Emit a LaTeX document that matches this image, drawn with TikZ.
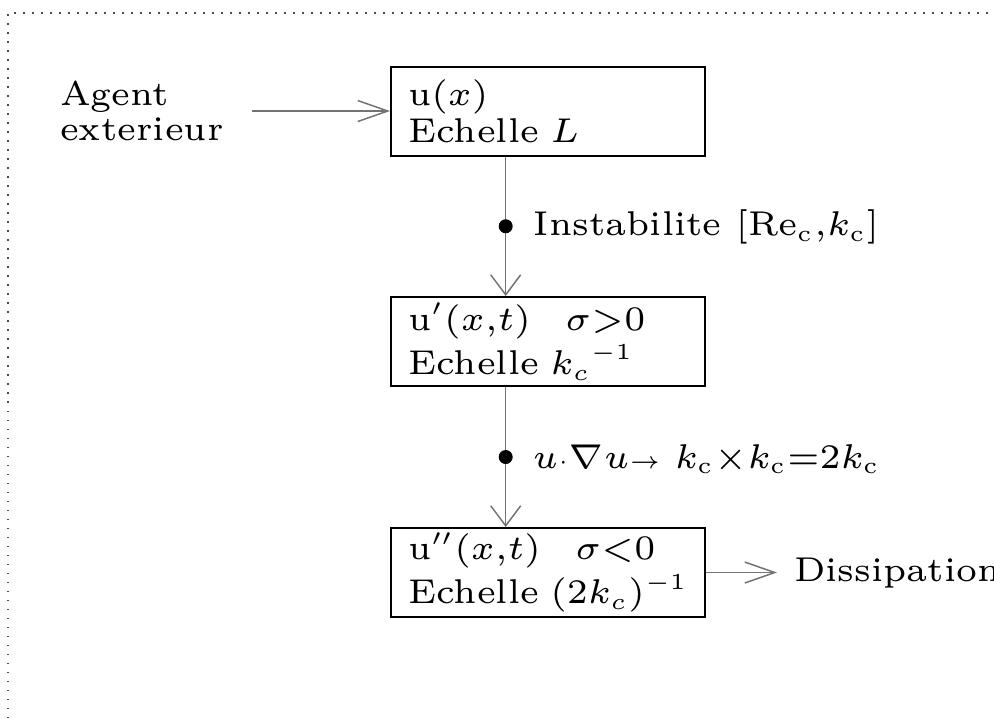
\RequirePackage{fix-cm}
\documentclass[tikz,border=0pt]{standalone}
\usetikzlibrary{arrows.meta}
% small optical sizes, with genuinely smaller scripts
\DeclareMathSizes{6}{6}{4}{3}
\begin{document}
\begin{tikzpicture}[x=0.1744pt, y=-0.1744pt,
  every node/.style={font=\fontsize{6}{6.45}\selectfont, inner sep=0pt},
  stage/.style={draw=black, line width=0.35pt, minimum width=54.76pt,
    minimum height=15.52pt, text width=48.83pt, align=left, inner xsep=2.96pt},
  flow/.style={draw=black!55, line width=0.26pt},
  vtip/.style={flow, -{Straight Barb[length=3.49pt, width=5.23pt]}},
  htip/.style={flow, -{Straight Barb[length=5.23pt, width=3.66pt]}},
  junction/.style={circle, fill=black, minimum size=2.44pt},
  frame/.style={draw=black!70, line width=0.24pt, dash pattern=on 0.25pt off 1.32pt}]
  \useasboundingbox (0,0) rectangle (994,718);
  \draw[frame] (8,718) -- (8,13) -- (994,13);

  % the three scales of the cascade
  \node[stage] (b1) at (548,111)
    {\mbox{u$(x)$}\\\mbox{Echelle $L$}};
  \node[stage] (b2) at (548,341.5)
    {\mbox{u$'(x{,}t)$\quad$\sigma{>}0$}\\\mbox{Echelle ${k_c}^{-1}$}};
  \node[stage] (b3) at (548,572.5)
    {\mbox{u$''(x{,}t)$\quad$\sigma{<}0$}\\\mbox{Echelle $(2k_c)^{-1}$}};

  \node[anchor=west, align=left, font=\fontsize{6}{6.1}\selectfont] (agent) at (59,111) {Agent\\exterieur};
  \node[anchor=base west] (diss) at (793,581.7) {Dissipation};

  \coordinate (spine) at (505.7,0);

  \draw[htip, shorten <=4.71pt] (agent.east |- b1.west) -- (b1.west);
  \draw[vtip] (spine |- b1.south) -- node[pos=0.5, junction] (d1) {} (spine |- b2.north);
  \draw[vtip] (spine |- b2.south) -- node[pos=0.5, junction] (d2) {} (spine |- b3.north);
  \draw[htip, shorten >=2.79pt] (b3.east) -- (b3.east -| diss.west);

  \node[anchor=base west] (l1) at ([xshift=4.71pt, yshift=-1.62pt]d1.center)
    {Instabilite $\left[\mathrm{Re}_{\mathrm{c}}{,}k_{\mathrm{c}}\right]$};
  \node[anchor=base west] (l2) at ([xshift=4.53pt, yshift=-1.92pt]d2.center)
    {$u{\scriptstyle\cdot}\nabla u{\scriptstyle\rightarrow}$\ $k_{\mathrm{c}}{\times}k_{\mathrm{c}}{=}2k_{\mathrm{c}}$};
\end{tikzpicture}
\end{document}
